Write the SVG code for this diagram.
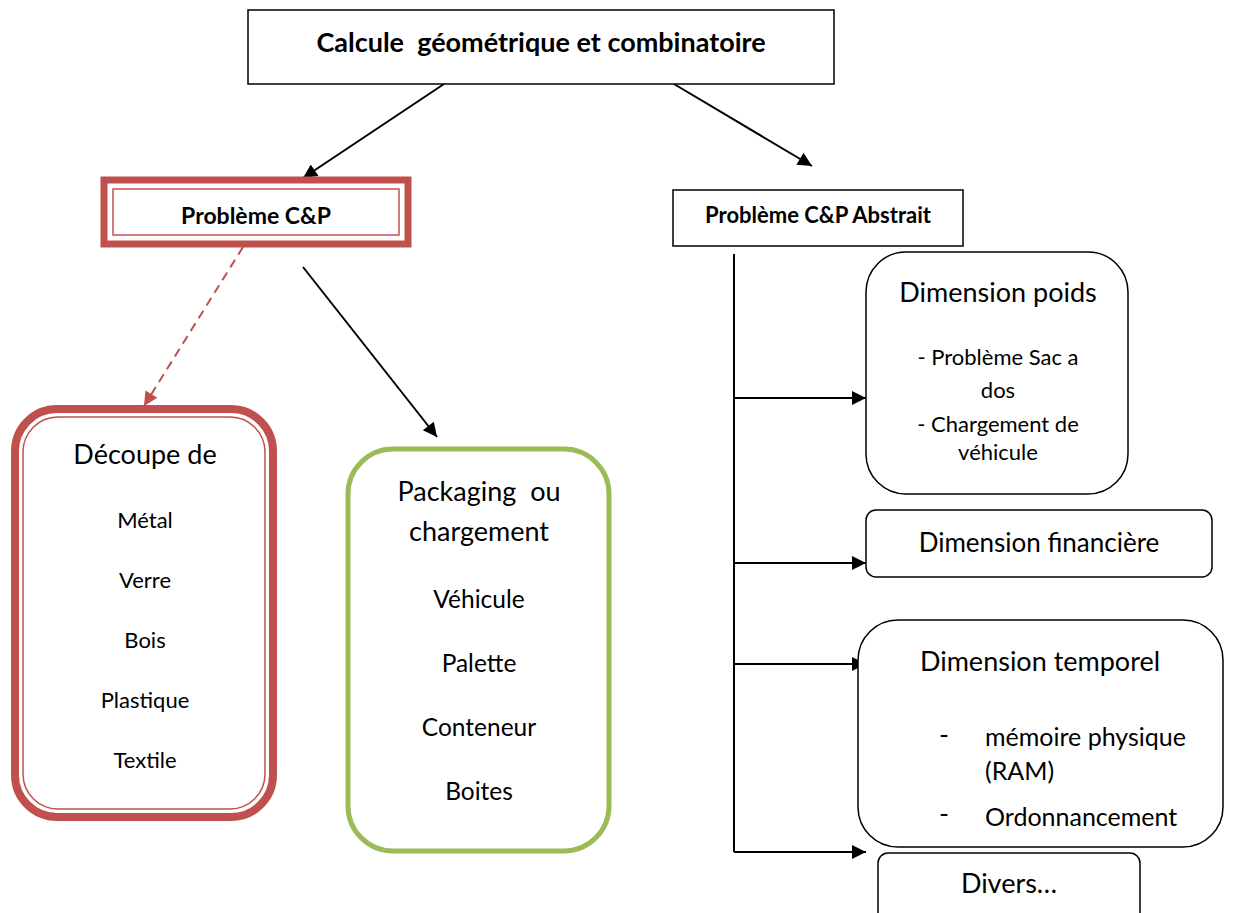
<svg xmlns="http://www.w3.org/2000/svg" width="1242" height="913" viewBox="0 0 1242 913">
  <defs>
    <marker id="arrowBig" viewBox="0 0 10 10" refX="10" refY="5" markerWidth="16" markerHeight="14" markerUnits="userSpaceOnUse" orient="auto">
      <path d="M0,0 L10,5 L0,10 Z" fill="#000"/>
    </marker>
    <marker id="arrowRed" viewBox="0 0 10 10" refX="10" refY="5" markerWidth="16" markerHeight="14" markerUnits="userSpaceOnUse" orient="auto">
      <path d="M0,0 L10,5 L0,10 Z" fill="#C0504D"/>
    </marker>
    <style>
      text { font-family: Lato, "Open Sans", "Liberation Sans", sans-serif; fill: #000; }
      .bold { font-weight: bold; }
      .c { text-anchor: middle; }
      .box { fill: #fff; stroke: #000; stroke-width: 1.5; }
      .conn { fill: none; stroke: #000; stroke-width: 2; }
      .head { font-size: 27px; }
      .item { font-size: 22px; }
      .pack { font-size: 24.5px; }
      .sub { font-size: 25px; }
    </style>
  </defs>

  <!-- connectors -->
  <g id="connectors">
    <line class="conn" x1="444" y1="84" x2="303" y2="178" marker-end="url(#arrowBig)"/>
    <line class="conn" x1="674" y1="84" x2="812" y2="166" marker-end="url(#arrowBig)"/>
    <line x1="243" y1="247" x2="144" y2="406" stroke="#C0504D" stroke-width="2" stroke-dasharray="9,6" marker-end="url(#arrowRed)"/>
    <line class="conn" x1="303" y1="267" x2="437" y2="437" marker-end="url(#arrowBig)"/>
    <line class="conn" x1="734" y1="254" x2="734" y2="852"/>
    <line class="conn" x1="734" y1="398" x2="866" y2="398" marker-end="url(#arrowBig)"/>
    <line class="conn" x1="734" y1="563" x2="866" y2="563" marker-end="url(#arrowBig)"/>
    <line class="conn" x1="734" y1="664" x2="866" y2="664" marker-end="url(#arrowBig)"/>
    <line class="conn" x1="734" y1="852" x2="866" y2="852" marker-end="url(#arrowBig)"/>
  </g>

  <!-- root -->
  <g id="root">
    <rect class="box" x="248" y="10" width="586" height="74"/>
    <text class="bold c" x="541" y="52" font-size="27" xml:space="preserve">Calcule  géométrique et combinatoire</text>
  </g>

  <!-- Problème C&P -->
  <g id="cp">
    <rect x="104" y="180" width="304" height="64" fill="#fff" stroke="#C0504D" stroke-width="7"/>
    <rect x="113" y="189" width="286" height="46" fill="none" stroke="#C0504D" stroke-width="1.5"/>
    <text class="bold c" x="256" y="224" font-size="23">Problème C&amp;P</text>
  </g>

  <!-- Problème C&P Abstrait -->
  <g id="abstrait">
    <rect class="box" x="673" y="190" width="290" height="56"/>
    <text class="bold c" x="818" y="223" font-size="22">Problème C&amp;P Abstrait</text>
  </g>

  <!-- Découpe -->
  <g id="decoupe">
    <rect x="15" y="409" width="258" height="408" rx="42" fill="#fff" stroke="#C0504D" stroke-width="8"/>
    <rect x="23" y="417" width="242" height="392" rx="35" fill="none" stroke="#C0504D" stroke-width="1.5"/>
    <text class="c head" x="145" y="464">Découpe de</text>
    <text class="c item" x="145" y="528">Métal</text>
    <text class="c item" x="145" y="588">Verre</text>
    <text class="c item" x="145" y="648">Bois</text>
    <text class="c item" x="145" y="708">Plastique</text>
    <text class="c item" x="145" y="768">Textile</text>
  </g>

  <!-- Packaging -->
  <g id="packaging">
    <rect x="348" y="449" width="261" height="402" rx="45" fill="#fff" stroke="#9BBB59" stroke-width="5"/>
    <text class="c head" x="479" y="501" xml:space="preserve">Packaging  ou</text>
    <text class="c head" x="479" y="541">chargement</text>
    <text class="c pack" x="479" y="608">Véhicule</text>
    <text class="c pack" x="479" y="672">Palette</text>
    <text class="c pack" x="479" y="736">Conteneur</text>
    <text class="c pack" x="479" y="800">Boites</text>
  </g>

  <!-- Dimension poids -->
  <g id="poids">
    <rect class="box" x="866" y="252" width="262" height="242" rx="40"/>
    <text class="c head" x="998" y="302">Dimension poids</text>
    <text class="c item" x="998" y="365">- Problème Sac a</text>
    <text class="c item" x="998" y="398">dos</text>
    <text class="c item" x="998" y="432">- Chargement de</text>
    <text class="c item" x="998" y="460">véhicule</text>
  </g>

  <!-- Dimension financière -->
  <g id="financiere">
    <rect class="box" x="866" y="510" width="346" height="67" rx="10"/>
    <text class="c" x="1039" y="552" font-size="26">Dimension financière</text>
  </g>

  <!-- Dimension temporel -->
  <g id="temporel">
    <rect class="box" x="858" y="620" width="365" height="227" rx="40"/>
    <text class="c head" x="1040" y="671">Dimension temporel</text>
    <text x="939" y="744" font-size="27">-</text>
    <text class="sub" x="985" y="746">mémoire physique</text>
    <text class="sub" x="985" y="780">(RAM)</text>
    <text x="939" y="823" font-size="27">-</text>
    <text class="sub" x="985" y="826">Ordonnancement</text>
  </g>

  <!-- Divers -->
  <g id="divers">
    <rect class="box" x="878" y="853" width="262" height="70" rx="10"/>
    <text class="c head" x="1009" y="893">Divers…</text>
  </g>
</svg>
